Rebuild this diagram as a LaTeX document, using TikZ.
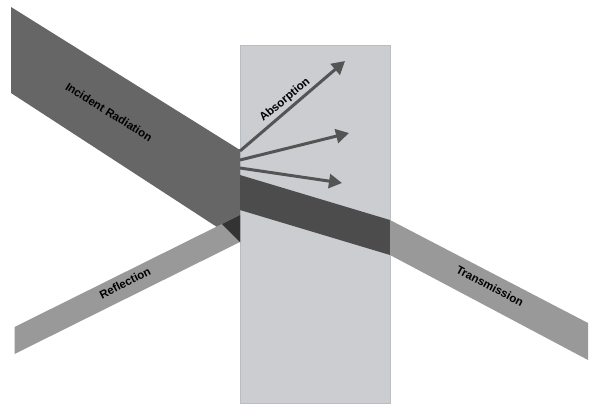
\documentclass[tikz,border=0pt]{standalone}
\usepackage{fontspec}
\setmainfont{Liberation Sans}
\usetikzlibrary{arrows.meta}
\begin{document}
\begin{tikzpicture}[x=1pt,y=-1pt,
  lbl/.style={font=\bfseries\fontsize{11.5}{13}\selectfont, text=black, inner sep=0pt},
  absarrow/.style={draw=black!67, line width=3pt, -{Triangle[length=13pt,width=14pt]}}]
\useasboundingbox (0,0) rectangle (600,407);
% slab
\fill[fill={rgb,255:red,203;green,205;blue,209}, draw={rgb,255:red,185;green,190;blue,195}, line width=0.5pt] (240,45) rectangle (390,403);
% incident band
\fill[black!60] (11,7) -- (240,150) -- (240,242) -- (11,93) -- cycle;
% reflection band
\fill[black!40] (14.5,327) -- (240,215) -- (240,242) -- (14.5,354) -- cycle;
% overlap
\fill[black!80] (222,224) -- (240,215) -- (240,242) -- cycle;
% transmitted inside slab
\fill[black!70] (240,175) -- (390,220) -- (390,255) -- (240,210) -- cycle;
% transmission outside
\fill[black!40] (390,220) -- (588,323) -- (588,360) -- (390,255) -- cycle;
% arrows
\coordinate (o1) at (240,151);
\coordinate (o2) at (240,160);
\coordinate (o3) at (240,168);
\coordinate (e1) at (345,61);
\coordinate (e2) at (349,133);
\coordinate (e3) at (342,183);
\draw[absarrow] (o1) -- (e1);
\draw[absarrow] (o2) -- (e2);
\draw[absarrow] (o3) -- (e3);
% labels
\node[lbl, rotate=-32] (inc) at (109,112) {Incident Radiation};
\node[lbl, rotate=40] (abs) at (285,100) {Absorption};
\node[lbl, rotate=27] (ref) at (125,283) {Reflection};
\node[lbl, rotate=-28] (tra) at (490,286) {Transmission};
\end{tikzpicture}
\end{document}
